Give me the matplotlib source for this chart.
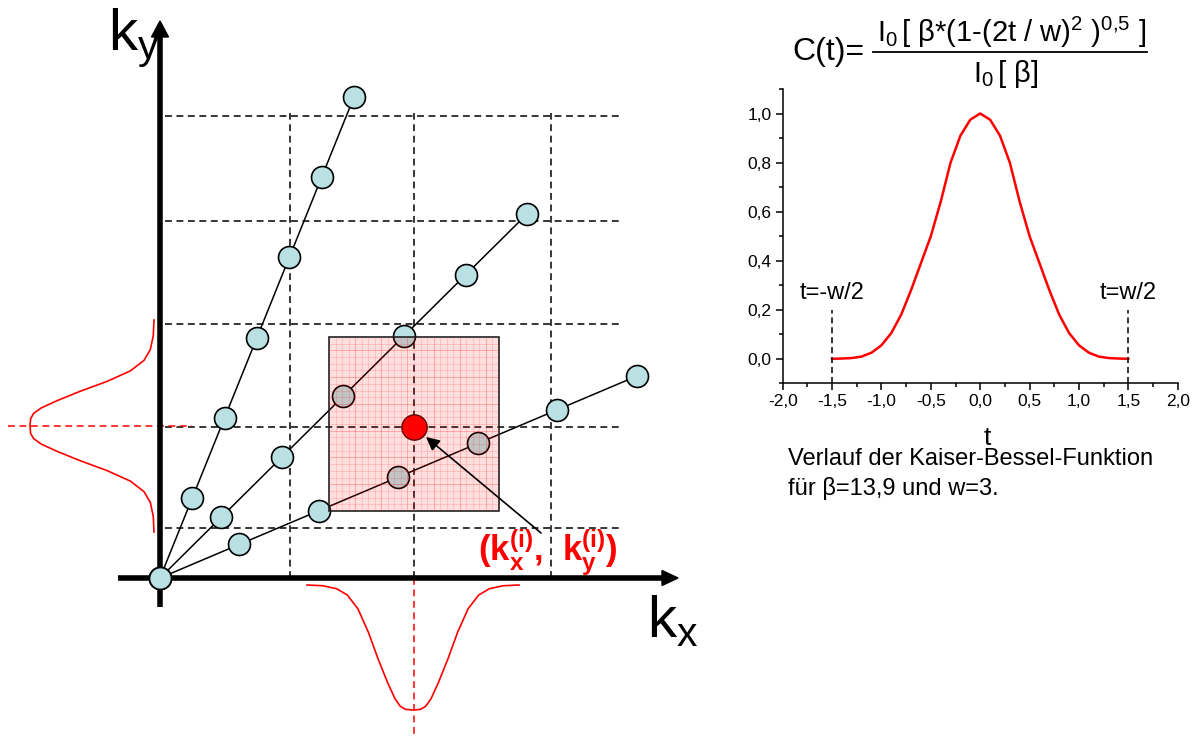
import numpy as np
import matplotlib
matplotlib.use('Agg')
import matplotlib.pyplot as plt
from matplotlib.patches import Rectangle, Polygon
from matplotlib.ticker import MultipleLocator, FuncFormatter

plt.rcParams['font.family'] = ['Liberation Sans', 'DejaVu Sans']
plt.rcParams['mathtext.fontset'] = 'custom'
plt.rcParams['mathtext.rm'] = 'Liberation Sans'
plt.rcParams['mathtext.it'] = 'Liberation Sans'
plt.rcParams['mathtext.bf'] = 'Liberation Sans:bold'

# --- k-space sketch (units: pixels measured from the origin, y up) ---
ray1_x = [0, 32, 65, 97, 129, 162, 194]
ray1_y = [0, 80, 160, 240, 321, 401, 481]
ray2_x = [0, 61, 122, 183, 244, 306, 367]
ray2_y = [0, 61, 121, 182, 242, 303, 364]
ray3_x = [0, 79, 159, 238, 318, 397, 477]
ray3_y = [0, 34, 67, 101, 135, 168, 202]

grid_x = [130, 254, 391]
grid_y = [50, 151, 254, 357, 462]

sample_k = (254, 151)
win_x0, win_x1, win_y0, win_y1 = 169, 339, 67, 241

# profile of the convolution kernel sketched along the axes
bump_d = [-1.0, -0.85, -0.72, -0.62, -0.52, -0.42, -0.33, -0.24, -0.17, -0.12, -0.07, 0.0,
          0.07, 0.12, 0.17, 0.24, 0.33, 0.42, 0.52, 0.62, 0.72, 0.85, 1.0]
bump_v = [0.0, 0.006, 0.03, 0.08, 0.19, 0.38, 0.59, 0.78, 0.91, 0.97, 0.995, 1.0,
          0.995, 0.97, 0.91, 0.78, 0.59, 0.38, 0.19, 0.08, 0.03, 0.006, 0.0]

# --- Kaiser-Bessel curve ---
t_vals = [-1.5, -1.4, -1.3, -1.2, -1.1, -1.0, -0.9, -0.8, -0.7, -0.6, -0.5, -0.4, -0.3, -0.2, -0.1, 0.0,
          0.1, 0.2, 0.3, 0.4, 0.5, 0.6, 0.7, 0.8, 0.9, 1.0, 1.1, 1.2, 1.3, 1.4, 1.5]
c_vals = [0.0, 0.001, 0.003, 0.009, 0.025, 0.055, 0.105, 0.18, 0.28, 0.39, 0.50, 0.64, 0.80, 0.91, 0.975, 1.0,
          0.975, 0.91, 0.80, 0.64, 0.50, 0.39, 0.28, 0.18, 0.105, 0.055, 0.025, 0.009, 0.003, 0.001, 0.0]

W, H = 1200, 736
fig = plt.figure(figsize=(12, 7.36), dpi=100)

ax = fig.add_axes([0, 0, 1, 1])
ax.set_xlim(-160, W - 160)
ax.set_ylim(578 - H, 578)
ax.axis('off')

light_blue = '#b9e0e2'
dash = (0, (4.5, 3))

# dashed grid
for gx in grid_x:
    ax.plot([gx, gx], [0, 465], color='k', lw=1.1, ls=dash, zorder=1)
for gy in grid_y:
    ax.plot([5, 460], [gy, gy], color='k', lw=1.1, ls=dash, zorder=1)

# red guides to the kernel sketches
ax.plot([-152, 32], [152, 152], color='red', lw=1.1, ls=dash, zorder=1)
ax.plot([254, 254], [0, -160], color='red', lw=1.1, ls=dash, zorder=1)

# kernel profiles
bd = np.array(bump_d)
bv = np.array(bump_v)
ax.plot(253 + 106 * bd, -7 - 125 * bv, color='red', lw=1.2, zorder=2)
ax.plot(-6 - 124 * bv, 152 + 106 * bd, color='red', lw=1.2, zorder=2)

# axes with arrows
ax.plot([0, 0], [-29, 544], color='k', lw=4, solid_capstyle='butt', zorder=2)
ax.plot([-42, 505], [0, 0], color='k', lw=4, solid_capstyle='butt', zorder=2)
ax.add_patch(Polygon([[0, 557], [-8.5, 541], [8.5, 541]], closed=True, color='k', zorder=2))
ax.add_patch(Polygon([[518, 0], [502, 7.5], [502, -7.5]], closed=True, color='k', zorder=2))

# sampling trajectories
for rx, ry in [(ray1_x, ray1_y), (ray2_x, ray2_y), (ray3_x, ray3_y)]:
    ax.plot([rx[0], rx[-1]], [ry[0], ry[-1]], color='k', lw=1.1, zorder=2)
    ax.scatter(rx, ry, s=250, facecolor=light_blue, edgecolor='k', linewidth=1.2, zorder=3)

# kernel window
ax.add_patch(Rectangle((win_x0, win_y0), win_x1 - win_x0, win_y1 - win_y0,
                       facecolor=(1, 0, 0, 0.13), edgecolor='#222222', lw=1.2, zorder=4))
xs = np.linspace(win_x0, win_x1, 27)
ys = np.linspace(win_y0, win_y1, 27)
for i, x in enumerate(xs[1:-1], 1):
    ax.plot([x, x], [win_y0, win_y1], color='red', lw=0.5, alpha=0.35 if i % 4 == 0 else 0.18, zorder=4)
for i, y in enumerate(ys[1:-1], 1):
    ax.plot([win_x0, win_x1], [y, y], color='red', lw=0.5, alpha=0.35 if i % 4 == 0 else 0.18, zorder=4)

ax.scatter([sample_k[0]], [sample_k[1]], s=330, facecolor='red', edgecolor='#600000', linewidth=1.0, zorder=6)

ax.annotate('', xy=(266, 141), xytext=(381, 45),
            arrowprops=dict(arrowstyle='-|>', color='k', lw=1.2, mutation_scale=20,
                            shrinkA=0, shrinkB=0), zorder=6)

ax.text(388, 16, r'$\mathbf{(k_x^{(i)}{,}\ \ k_y^{(i)})}$', color='red', fontsize=25,
        ha='center', va='baseline', zorder=7)
ax.text(-52, 528, r'$\mathrm{k_y}$', fontsize=42, ha='left', va='baseline')
ax.text(487, -59, r'$\mathrm{k_x}$', fontsize=42, ha='left', va='baseline')

# --- Kaiser-Bessel plot ---
bx = fig.add_axes([782.7 / W, 1 - 383.3 / H, 395 / W, 294.3 / H])
bx.plot(t_vals, c_vals, color='red', lw=1.8)
bx.set_xlim(-2, 2)
bx.set_ylim(-0.1, 1.1)
bx.spines['top'].set_visible(False)
bx.spines['right'].set_visible(False)
for s in ['left', 'bottom']:
    bx.spines[s].set_linewidth(1.1)
bx.xaxis.set_major_locator(MultipleLocator(0.5))
bx.xaxis.set_minor_locator(MultipleLocator(0.25))
bx.yaxis.set_major_locator(MultipleLocator(0.2))
bx.yaxis.set_minor_locator(MultipleLocator(0.1))


def comma(v, pos):
    if abs(v) < 1e-9:
        v = 0.0
    return f'{v:.1f}'.replace('.', ',')


bx.xaxis.set_major_formatter(FuncFormatter(comma))
bx.yaxis.set_major_formatter(FuncFormatter(comma))
bx.tick_params(which='major', direction='out', length=5, width=1.1, labelsize=12.5, pad=3)
bx.tick_params(which='minor', direction='out', length=3, width=1.1)
bx.patch.set_alpha(0)

bx.plot([-1.5, -1.5], [-0.1, 0.2], color='k', lw=1.1, ls=(0, (4, 2.5)), clip_on=False)
bx.plot([1.5, 1.5], [-0.1, 0.2], color='k', lw=1.1, ls=(0, (4, 2.5)), clip_on=False)
bx.text(-1.5, 0.245, 't=-w/2', fontsize=17, ha='center', va='baseline')
bx.text(1.5, 0.245, 't=w/2', fontsize=17, ha='center', va='baseline')

fig.text(987 / W, 1 - 445 / H, 't', fontsize=19, ha='center', va='baseline')
fig.text(788 / W, 1 - 465 / H, 'Verlauf der Kaiser-Bessel-Funktion', fontsize=17,
         ha='left', va='baseline')
fig.text(788 / W, 1 - 495 / H, 'für β=13,9 und w=3.', fontsize=17, ha='left', va='baseline')

# formula
fig.text(792 / W, 1 - 52 / H, 'C(t)=', fontsize=23, ha='left', va='center')
fig.text(1012 / W, 1 - 32 / H,
         '$\\mathrm{I_0\\,[\\ \\beta{*}(1\u2010(2t\\ /\\ w)^2\\ )^{0{,}5}\\ ]}$',
         fontsize=21, ha='center', va='center')
fig.text(1006 / W, 1 - 74 / H, r'$\mathrm{I_0\,[\ \beta]}$', fontsize=21, ha='center', va='center')
ax.plot([873 - 160, 1147 - 160], [578 - 52, 578 - 52], color='k', lw=1.3)

fig.savefig('out.png', dpi=100)
